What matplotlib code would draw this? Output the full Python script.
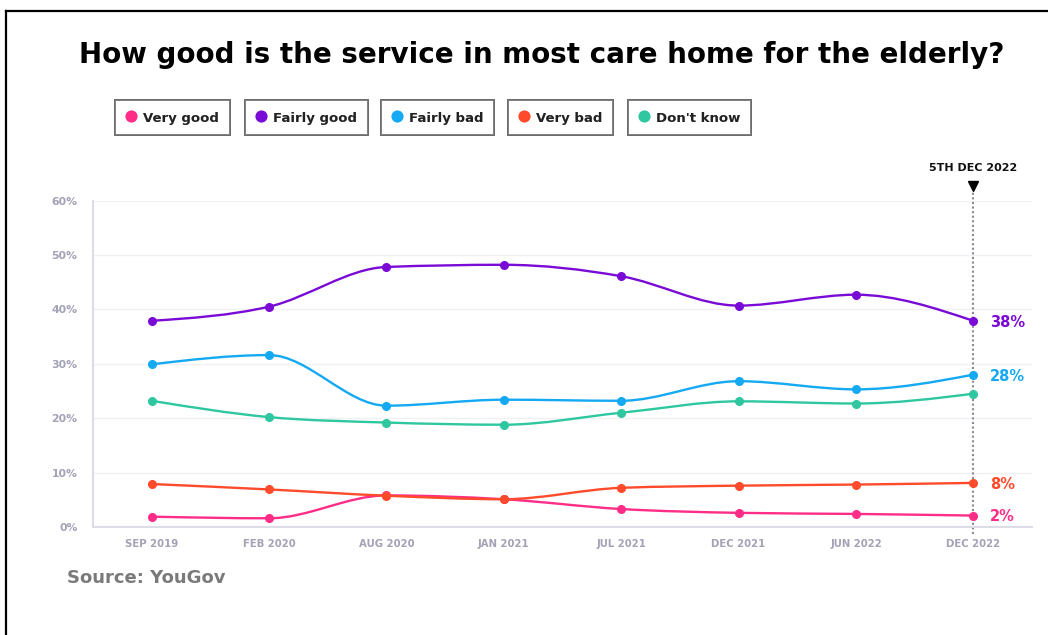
import matplotlib.pyplot as plt
import numpy as np
from matplotlib.path import Path
from matplotlib.patches import PathPatch
from matplotlib.lines import Line2D
import matplotlib.transforms as mtransforms

# survey waves
waves = ['SEP 2019', 'FEB 2020', 'AUG 2020', 'JAN 2021', 'JUL 2021', 'DEC 2021', 'JUN 2022', 'DEC 2022']

# share of respondents (%)
very_good = [1.9, 1.6, 5.8, 5.1, 3.3, 2.6, 2.4, 2.1]
fairly_good = [37.9, 40.5, 47.8, 48.2, 46.1, 40.7, 42.7, 37.9]
fairly_bad = [29.9, 31.6, 22.3, 23.4, 23.2, 26.8, 25.3, 28.0]
very_bad = [7.9, 6.9, 5.75, 5.1, 7.2, 7.6, 7.8, 8.1]
dont_know = [23.2, 20.2, 19.2, 18.8, 21.0, 23.1, 22.7, 24.5]

series_names = ['Very good', 'Fairly good', 'Fairly bad', 'Very bad', "Don't know"]
series_values = [very_good, fairly_good, fairly_bad, very_bad, dont_know]
series_colors = ['#ff2d87', '#7a0bd6', '#14a9f2', '#ff4b2b', '#2ec79f']

# labels shown at the right end of the lines
end_labels = {'Fairly good': '38%', 'Fairly bad': '28%', 'Very bad': '8%', 'Very good': '2%'}

y_ticks = [0, 10, 20, 30, 40, 50, 60]
marker_label = '5TH DEC 2022'


def monotone_path(x, y):
    # cubic bezier path with monotone-x tangents (like d3.curveMonotoneX)
    x = np.asarray(x, float)
    y = np.asarray(y, float)
    n = len(x)
    h = np.diff(x)
    s = np.diff(y) / h
    t = np.zeros(n)
    for i in range(1, n - 1):
        if s[i - 1] * s[i] <= 0:
            t[i] = 0
        else:
            p = (s[i - 1] * h[i] + s[i] * h[i - 1]) / (h[i - 1] + h[i])
            t[i] = np.sign(s[i - 1]) * min(2 * abs(s[i - 1]), 2 * abs(s[i]), abs(p))
    t[0] = (3 * s[0] - t[1]) / 2
    t[-1] = (3 * s[-1] - t[-2]) / 2
    verts = [(x[0], y[0])]
    codes = [Path.MOVETO]
    for i in range(n - 1):
        dx = h[i] / 3
        verts += [(x[i] + dx, y[i] + dx * t[i]),
                  (x[i + 1] - dx, y[i + 1] - dx * t[i + 1]),
                  (x[i + 1], y[i + 1])]
        codes += [Path.CURVE4] * 3
    return Path(verts, codes)


fig = plt.figure(figsize=(10.48, 6.35), dpi=100, facecolor='white')
ax = fig.add_axes([0.0887, 0.1701, 0.896, 0.514])

xs = np.arange(len(waves))
handles = []
for name, vals, col in zip(series_names, series_values, series_colors):
    ax.add_patch(PathPatch(monotone_path(xs, vals), facecolor='none', edgecolor=col, lw=1.7, zorder=3))
    h, = ax.plot(xs, vals, 'o', color=col, markersize=5.5, label=name, zorder=4)
    handles.append(h)
    if name in end_labels:
        ax.annotate(end_labels[name], (xs[-1], vals[-1]), xytext=(12, -1), textcoords='offset points',
                    color=col, fontsize=10.5, fontweight='bold', va='center', ha='left',
                    annotation_clip=False)

ax.set_xlim(-0.5, 7.5)
ax.set_ylim(0, 60)
ax.set_xticks(xs)
ax.set_xticklabels(waves)
ax.set_yticks(y_ticks)
ax.set_yticklabels([f'{v}%' for v in y_ticks])
ax.tick_params(length=0, labelcolor='#a3a2b6')
ax.tick_params(axis='y', pad=11, labelsize=7.8)
ax.tick_params(axis='x', pad=9, labelsize=7.3)
for lab in ax.get_xticklabels() + ax.get_yticklabels():
    lab.set_fontweight('bold')
ax.grid(axis='y', color='#f1f1f4', lw=1)
ax.set_axisbelow(True)
for side in ['top', 'right']:
    ax.spines[side].set_visible(False)
for side in ['left', 'bottom']:
    ax.spines[side].set_color('#dcdde6')
    ax.spines[side].set_linewidth(1.5)

# dotted marker for the latest wave
trans = mtransforms.blended_transform_factory(ax.transData, ax.transAxes)
ax.plot([xs[-1], xs[-1]], [-0.02, 1.035], transform=trans, color='#8a8a94', lw=1.5,
        linestyle=(0, (1, 1.2)), clip_on=False, zorder=2)
ax.plot([xs[-1]], [1.046], transform=trans, marker='v', color='black', markersize=7.5, clip_on=False)
ax.text(xs[-1], 1.086, marker_label, transform=trans, ha='center', va='bottom',
        fontsize=8, fontweight='bold', color='#111111')

# title
fig.text(0.517, 0.913, 'How good is the service in most care home for the elderly?',
         ha='center', va='center', fontsize=20, fontweight='bold', color='black')

# one boxed legend per series
legend_left = [115, 245, 381, 508, 628]
for h, left in zip(handles, legend_left):
    leg = fig.legend(handles=[h], loc='upper left', bbox_to_anchor=(left / 1048, 1 - 100 / 635),
                     bbox_transform=fig.transFigure, borderaxespad=0, fancybox=False,
                     frameon=True, handlelength=0.8, handleheight=1.2, handletextpad=0.55,
                     borderpad=0.8, prop={'weight': 'bold', 'size': 9.5}, markerscale=1.4)
    leg.get_frame().set_edgecolor('#666666')
    leg.get_frame().set_linewidth(1.4)
    for txt in leg.get_texts():
        txt.set_color('#222222')
    fig.add_artist(leg)

fig.text(67 / 1048, 1 - 578 / 635, 'Source: YouGov', ha='left', va='center',
         fontsize=13, fontweight='bold', color='#7a7a7a')

# outer frame (top and left edges visible)
fig.add_artist(Line2D([6 / 1048, 1.0], [1 - 11 / 635, 1 - 11 / 635], transform=fig.transFigure,
                      color='black', lw=1.6))
fig.add_artist(Line2D([6 / 1048, 6 / 1048], [0, 1 - 11 / 635], transform=fig.transFigure,
                      color='black', lw=1.6))

fig.savefig('out.png', dpi=100)
